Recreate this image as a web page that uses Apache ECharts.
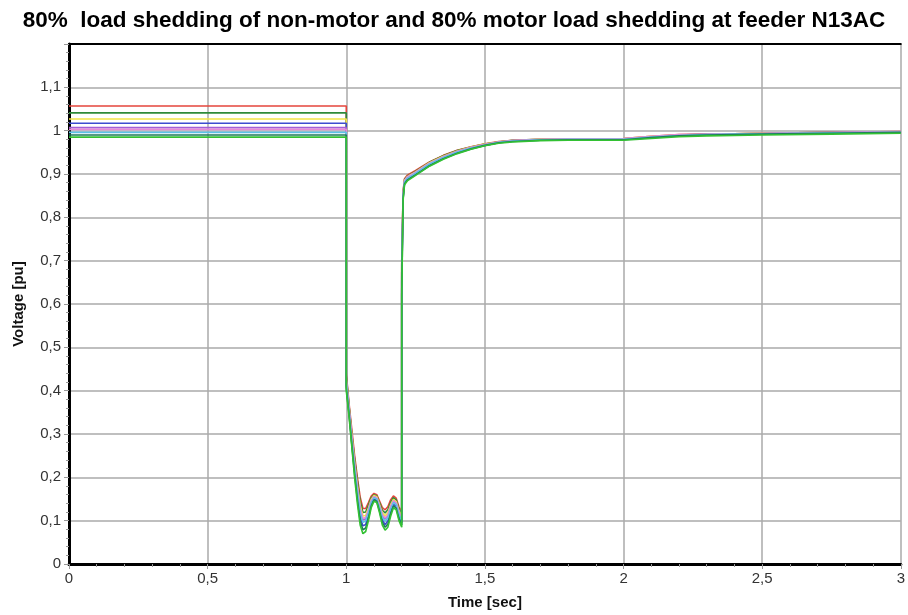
<!DOCTYPE html>
<html>
<head>
<meta charset="utf-8">
<script src="https://cdn.jsdelivr.net/npm/echarts@6/dist/echarts.min.js"></script>
<style>html,body{margin:0;padding:0;background:#fff}#c{width:908px;height:615px}</style>
</head>
<body>
<div id="c"></div>
<script>
var titleText = '80%  load shedding of non-motor and 80% motor load shedding at feeder N13AC';
var xName = 'Time [sec]';
var yName = 'Voltage [pu]';
var xTicks = [0, 0.5, 1, 1.5, 2, 2.5, 3];
var yTicks = [0, 0.1, 0.2, 0.3, 0.4, 0.5, 0.6, 0.7, 0.8, 0.9, 1, 1.1];

var time = [0, 1.0, 1.0, 1.01, 1.02, 1.03, 1.04, 1.05, 1.06, 1.07, 1.08, 1.09, 1.10, 1.11, 1.12, 1.13, 1.14, 1.15, 1.16, 1.17, 1.18, 1.19, 1.2, 1.2, 1.205, 1.21, 1.22, 1.25, 1.3, 1.35, 1.4, 1.45, 1.5, 1.55, 1.6, 1.7, 1.8, 1.9, 2.0, 2.1, 2.2, 2.3, 2.4, 2.5, 2.75, 3.0];

var seriesNames = ['Bus 1', 'Bus 2', 'Bus 3', 'Bus 4', 'Bus 5', 'Bus 6', 'Bus 7', 'Bus 8', 'Bus 9'];
var seriesColors = ['#e5453d', '#2f8a3a', '#f2e448', '#3c4cd0', '#a35fd6', '#e78ad6', '#5cc2e6', '#1e7a5c', '#33c133'];

var vRed = [1.057, 1.057, 0.44, 0.37, 0.31, 0.25, 0.20, 0.155, 0.128, 0.128, 0.142, 0.157, 0.163, 0.160, 0.145, 0.130, 0.125, 0.132, 0.148, 0.157, 0.152, 0.132, 0.12, 0.70, 0.86, 0.889, 0.897, 0.908, 0.928, 0.943, 0.955, 0.963, 0.970, 0.975, 0.978, 0.980, 0.981, 0.981, 0.982, 0.987, 0.991, 0.992, 0.993, 0.994, 0.996, 0.998];
var vDarkGreen = [1.041, 1.041, 0.434, 0.365, 0.30, 0.242, 0.191, 0.145, 0.119, 0.12, 0.136, 0.153, 0.160, 0.157, 0.141, 0.124, 0.118, 0.125, 0.142, 0.153, 0.148, 0.127, 0.115, 0.69, 0.857, 0.887, 0.895, 0.906, 0.927, 0.942, 0.954, 0.962, 0.969, 0.974, 0.978, 0.980, 0.980, 0.981, 0.981, 0.986, 0.990, 0.992, 0.993, 0.994, 0.996, 0.997];
var vYellow = [1.027, 1.027, 0.428, 0.359, 0.298, 0.235, 0.182, 0.136, 0.111, 0.112, 0.129, 0.149, 0.158, 0.155, 0.137, 0.118, 0.111, 0.118, 0.137, 0.149, 0.144, 0.123, 0.110, 0.68, 0.854, 0.885, 0.894, 0.905, 0.926, 0.941, 0.953, 0.962, 0.969, 0.974, 0.977, 0.980, 0.981, 0.980, 0.982, 0.987, 0.990, 0.991, 0.993, 0.994, 0.995, 0.997];
var vBlue = [1.017, 1.017, 0.412, 0.349, 0.279, 0.215, 0.158, 0.109, 0.088, 0.091, 0.113, 0.138, 0.150, 0.147, 0.126, 0.102, 0.091, 0.099, 0.121, 0.138, 0.133, 0.109, 0.095, 0.65, 0.846, 0.878, 0.887, 0.899, 0.920, 0.936, 0.949, 0.959, 0.966, 0.972, 0.976, 0.978, 0.979, 0.980, 0.980, 0.985, 0.989, 0.990, 0.992, 0.993, 0.995, 0.997];
var vPurple = [1.007, 1.007, 0.422, 0.356, 0.29, 0.228, 0.173, 0.126, 0.102, 0.104, 0.123, 0.145, 0.155, 0.152, 0.133, 0.112, 0.104, 0.111, 0.131, 0.145, 0.140, 0.118, 0.104, 0.67, 0.851, 0.883, 0.892, 0.903, 0.924, 0.939, 0.952, 0.961, 0.968, 0.973, 0.977, 0.979, 0.980, 0.980, 0.981, 0.986, 0.990, 0.991, 0.992, 0.993, 0.995, 0.997];
var vPink = [1.003, 1.003, 0.424, 0.358, 0.292, 0.23, 0.176, 0.129, 0.105, 0.107, 0.125, 0.146, 0.156, 0.153, 0.134, 0.114, 0.106, 0.113, 0.133, 0.146, 0.141, 0.119, 0.106, 0.67, 0.852, 0.884, 0.893, 0.904, 0.925, 0.940, 0.952, 0.961, 0.968, 0.974, 0.977, 0.980, 0.981, 0.981, 0.982, 0.987, 0.991, 0.992, 0.993, 0.994, 0.996, 0.998];
var vCyan = [0.996, 0.996, 0.418, 0.353, 0.285, 0.222, 0.167, 0.119, 0.096, 0.099, 0.119, 0.142, 0.153, 0.150, 0.130, 0.108, 0.099, 0.106, 0.127, 0.142, 0.137, 0.114, 0.100, 0.66, 0.849, 0.881, 0.890, 0.902, 0.923, 0.938, 0.951, 0.960, 0.967, 0.973, 0.976, 0.979, 0.980, 0.980, 0.980, 0.985, 0.989, 0.991, 0.992, 0.993, 0.995, 0.996];
var vTeal = [0.990, 0.990, 0.406, 0.345, 0.275, 0.208, 0.149, 0.10, 0.079, 0.083, 0.106, 0.134, 0.148, 0.145, 0.122, 0.096, 0.085, 0.092, 0.116, 0.134, 0.129, 0.105, 0.09, 0.63, 0.843, 0.877, 0.886, 0.898, 0.919, 0.935, 0.948, 0.958, 0.966, 0.972, 0.975, 0.978, 0.979, 0.979, 0.979, 0.984, 0.988, 0.990, 0.991, 0.992, 0.994, 0.996];
var vGreen = [0.985, 0.985, 0.40, 0.34, 0.27, 0.20, 0.14, 0.09, 0.07, 0.075, 0.10, 0.13, 0.145, 0.142, 0.118, 0.09, 0.078, 0.085, 0.11, 0.13, 0.125, 0.10, 0.085, 0.62, 0.84, 0.875, 0.884, 0.897, 0.918, 0.934, 0.947, 0.957, 0.965, 0.971, 0.974, 0.977, 0.978, 0.978, 0.978, 0.982, 0.986, 0.988, 0.989, 0.990, 0.992, 0.994];

var allValues = [vRed, vDarkGreen, vYellow, vBlue, vPurple, vPink, vCyan, vTeal, vGreen];

function comma(v) {
  return String(Math.round(v * 100) / 100).replace('.', ',');
}

var series = allValues.map(function (vals, i) {
  return {
    name: seriesNames[i],
    type: 'line',
    showSymbol: false,
    animation: false,
    lineStyle: { color: seriesColors[i], width: 1.6 },
    itemStyle: { color: seriesColors[i] },
    data: time.map(function (t, k) { return [t, vals[k]]; })
  };
});

var font = '"Liberation Sans", Arial, sans-serif';
var chart = echarts.init(document.getElementById('c'), null, { renderer: 'canvas' });
chart.setOption({
  backgroundColor: '#fff',
  animation: false,
  title: {
    text: titleText,
    left: 'center',
    top: 4,
    textStyle: { fontFamily: font, fontWeight: 'bold', fontSize: 22.5, color: '#000' }
  },
  grid: { left: 69, right: 6, top: 44, bottom: 48 },
  xAxis: [{
    type: 'value',
    min: xTicks[0], max: xTicks[xTicks.length - 1], interval: 0.5,
    name: xName, nameLocation: 'middle', nameGap: 31,
    nameTextStyle: { fontFamily: font, fontWeight: 'bold', fontSize: 15, color: '#111' },
    axisLine: { show: true, onZero: false, lineStyle: { color: '#000', width: 3 } },
    axisTick: { show: true, length: 5, lineStyle: { color: '#999' } },
    minorTick: { show: true, splitNumber: 5, length: 3, lineStyle: { color: '#999' } },
    axisLabel: { formatter: comma, fontFamily: font, fontSize: 15, color: '#333', margin: 7 },
    splitLine: { show: true, lineStyle: { color: '#aaa', width: 1.5 } }
  }, {
    type: 'value', position: 'top',
    min: xTicks[0], max: xTicks[xTicks.length - 1],
    axisLine: { show: true, onZero: false, lineStyle: { color: '#000', width: 2 } },
    axisTick: { show: false }, axisLabel: { show: false }, splitLine: { show: false }
  }],
  yAxis: {
    type: 'value',
    min: 0, max: 1.2, interval: 0.1,
    name: yName, nameLocation: 'middle', nameGap: 43, nameRotate: 90,
    nameTextStyle: { fontFamily: font, fontWeight: 'bold', fontSize: 15, color: '#111' },
    axisLine: { show: true, onZero: false, lineStyle: { color: '#000', width: 3 } },
    axisTick: { show: true, length: 5, lineStyle: { color: '#999' } },
    minorTick: { show: true, splitNumber: 5, length: 3, lineStyle: { color: '#999' } },
    axisLabel: {
      fontFamily: font, fontSize: 15, color: '#333', margin: 8, showMaxLabel: false,
      formatter: function (v) { return yTicks.indexOf(Math.round(v * 10) / 10) >= 0 ? comma(v) : ''; }
    },
    splitLine: { show: true, lineStyle: { color: '#aaa', width: 1.5 } }
  },
  series: series
});
</script>
</body>
</html>
